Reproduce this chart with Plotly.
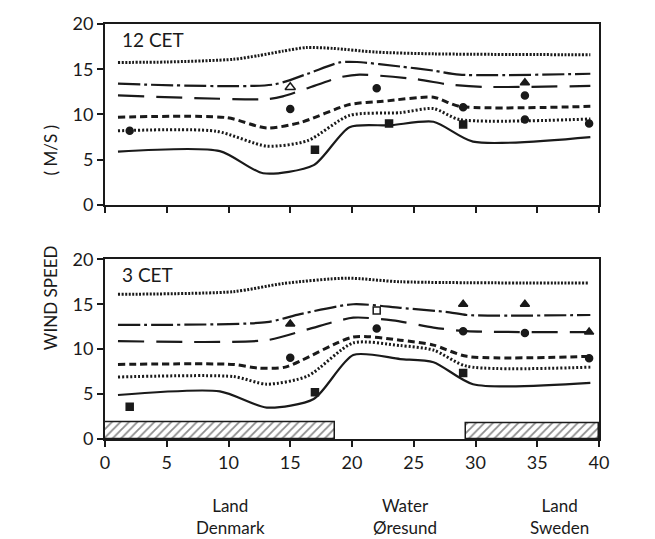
import plotly.graph_objects as go
from plotly.subplots import make_subplots

# ---------------- data: 12 CET (top panel) ----------------
t_dot_hi_x = [1.05, 5, 10.4, 12.4, 14.4, 16.3, 18.5, 21.9, 26.6, 39.3]
t_dot_hi_y = [15.75, 15.8, 16.1, 16.5, 17.0, 17.4, 17.3, 16.9, 16.7, 16.6]
t_dashdot_x = [1.05, 13.6, 16.4, 19.0, 20.4, 23.9, 26.6, 28.7, 39.3]
t_dashdot_y = [13.4, 13.3, 14.5, 15.75, 15.8, 15.3, 14.85, 14.4, 14.5]
t_longdash_x = [1.05, 13.1, 14.4, 16.4, 19.0, 20.6, 25.2, 27.9, 30.6, 39.3]
t_longdash_y = [12.1, 11.7, 12.0, 12.9, 14.1, 14.4, 13.9, 13.3, 13.05, 13.15]
t_dash_x = [1.05, 9.85, 13.1, 15.8, 19.8, 22.5, 26.6, 28.7, 39.3]
t_dash_y = [9.7, 9.65, 8.5, 9.1, 11.1, 11.45, 11.9, 10.9, 10.9]
t_dot_lo_x = [1.05, 9.0, 13.1, 16.4, 19.8, 23.9, 26.6, 28.7, 39.3]
t_dot_lo_y = [8.2, 8.15, 6.5, 7.1, 9.9, 10.2, 10.65, 9.45, 9.5]
t_solid_x = [1.05, 9.3, 12.8, 16.9, 19.8, 23.1, 26.6, 29.8, 39.3]
t_solid_y = [5.9, 5.95, 3.5, 4.4, 8.6, 8.8, 9.2, 7.0, 7.5]

t_tri_open_x = [15]
t_tri_open_y = [13.0]
t_tri_x = [34]
t_tri_y = [13.5]
t_circ_x = [2, 15, 22, 29, 34, 34, 39.2]
t_circ_y = [8.2, 10.6, 12.9, 10.8, 12.1, 9.45, 9.0]
t_sq_x = [17, 23, 29]
t_sq_y = [6.1, 9.0, 8.9]

# ---------------- data: 3 CET (bottom panel) ----------------
b_dot_hi_x = [1.05, 10.4, 14.4, 19.6, 23.9, 39.2]
b_dot_hi_y = [16.1, 16.4, 17.3, 17.9, 17.5, 17.35]
b_dashdot_x = [1.05, 13.1, 15.8, 20.1, 23.9, 27.9, 29.3, 39.3]
b_dashdot_y = [12.7, 13.0, 13.9, 15.0, 14.6, 14.1, 13.8, 13.8]
b_longdash_x = [1.05, 13.1, 16.4, 20.1, 23.3, 26.6, 29.3, 39.3]
b_longdash_y = [10.9, 11.0, 12.2, 13.5, 13.2, 12.4, 12.0, 11.9]
b_dash_x = [1.05, 10.4, 12.4, 14.6, 20.1, 23.9, 26.6, 29.3, 39.3]
b_dash_y = [8.3, 8.3, 7.9, 8.0, 11.35, 11.0, 10.45, 9.2, 9.2]
b_dot_lo_x = [1.05, 10.4, 13.1, 16.4, 20.1, 23.9, 26.6, 29.3, 39.3]
b_dot_lo_y = [6.9, 6.95, 6.1, 7.0, 10.7, 10.4, 9.9, 8.1, 8.0]
b_solid_x = [1.05, 9.3, 13.1, 16.9, 20.1, 23.9, 26.6, 29.8, 39.3]
b_solid_y = [4.9, 5.3, 3.5, 4.45, 9.35, 8.9, 8.55, 6.1, 6.25]

b_tri_x = [15, 29, 34, 39.2]
b_tri_y = [12.8, 15.0, 15.0, 11.9]
b_circ_x = [15, 22, 29, 34, 39.2]
b_circ_y = [9.05, 12.3, 12.0, 11.8, 9.0]
b_sq_x = [2, 17, 29]
b_sq_y = [3.6, 5.2, 7.35]
b_sq_open_x = [22]
b_sq_open_y = [14.3]

# land strips (hatched)
land_start = [0, 29.2]
land_end = [18.6, 40]
land_height = [1.9, 1.7]

x_ticks = [0, 5, 10, 15, 20, 25, 30, 35, 40]
y_ticks = [0, 5, 10, 15, 20]
region_x = [10.2, 24.3, 36.8]
region_labels = ["Land<br>Denmark", "Water<br>Øresund", "Land<br>Sweden"]
panel_labels = ["12 CET", "3 CET"]

FONT = "Lato"
BLACK = "#1a1a1a"

fig = make_subplots(rows=2, cols=1)

styles = [
    dict(dash="2px,1.5px", width=3),          # fine dotted (top)
    dict(dash="22px,4px,3px,4px", width=2.2),  # dash-dot
    dict(dash="26px,12px", width=2.2),         # long dash
    dict(dash="7px,4px", width=3),             # heavy dashed
    dict(dash="2px,2px", width=3),             # dotted (lower)
    dict(dash="solid", width=2.2),             # solid
]

top_series = [(t_dot_hi_x, t_dot_hi_y), (t_dashdot_x, t_dashdot_y), (t_longdash_x, t_longdash_y),
              (t_dash_x, t_dash_y), (t_dot_lo_x, t_dot_lo_y), (t_solid_x, t_solid_y)]
bot_series = [(b_dot_hi_x, b_dot_hi_y), (b_dashdot_x, b_dashdot_y), (b_longdash_x, b_longdash_y),
              (b_dash_x, b_dash_y), (b_dot_lo_x, b_dot_lo_y), (b_solid_x, b_solid_y)]

for row, series in ((1, top_series), (2, bot_series)):
    for (xs, ys), st in zip(series, styles):
        fig.add_trace(go.Scatter(x=xs, y=ys, mode="lines",
                                 line=dict(color=BLACK, width=st["width"], dash=st["dash"],
                                           shape="spline", smoothing=0.7),
                                 showlegend=False, hoverinfo="skip"), row=row, col=1)

def markers(xs, ys, symbol, size, row):
    fig.add_trace(go.Scatter(x=xs, y=ys, mode="markers",
                             marker=dict(symbol=symbol, size=size, color=BLACK,
                                         line=dict(color=BLACK, width=1.5)),
                             showlegend=False), row=row, col=1)

markers(t_tri_open_x, t_tri_open_y, "triangle-up-open", 9, 1)
markers(t_tri_x, t_tri_y, "triangle-up", 8, 1)
markers(t_circ_x, t_circ_y, "circle", 7, 1)
markers(t_sq_x, t_sq_y, "square", 7, 1)
markers(b_tri_x, b_tri_y, "triangle-up", 8, 2)
markers(b_circ_x, b_circ_y, "circle", 7, 2)
markers(b_sq_x, b_sq_y, "square", 7, 2)
markers(b_sq_open_x, b_sq_open_y, "square-open", 7, 2)

# hatched land strips
fig.add_trace(go.Bar(
    x=[(s + e) / 2 for s, e in zip(land_start, land_end)],
    y=land_height,
    width=[e - s for s, e in zip(land_start, land_end)],
    marker=dict(color="white", line=dict(color=BLACK, width=1.5),
                pattern=dict(shape="/", fgcolor=BLACK, bgcolor="white", size=6, solidity=0.3)),
    showlegend=False, hoverinfo="skip"), row=2, col=1)

axis_common = dict(range=[0, 40], showgrid=False, zeroline=False, showline=True, mirror=True,
                   linecolor=BLACK, linewidth=2, ticks="outside", ticklen=6, tickwidth=1.5,
                   tickcolor=BLACK, tickvals=x_ticks)
fig.update_xaxes(**axis_common)
fig.update_xaxes(showticklabels=False, row=1, col=1)
fig.update_xaxes(tickfont=dict(family=FONT, size=18, color=BLACK), row=2, col=1)
fig.update_yaxes(range=[0, 20], showgrid=False, zeroline=False, showline=True, mirror=True,
                 linecolor=BLACK, linewidth=2, ticks="outside", ticklen=6, tickwidth=1.5,
                 tickcolor=BLACK, tickvals=y_ticks,
                 tickfont=dict(family=FONT, size=18, color=BLACK))
fig.update_yaxes(domain=[0.564, 1.0], row=1, col=1)
fig.update_yaxes(domain=[0.0, 0.433], row=2, col=1)

fig.update_layout(width=655, height=539, margin=dict(l=105, r=56, t=14, b=100),
                  paper_bgcolor="white", plot_bgcolor="white", bargap=0)

annotations = []
for i, lbl in enumerate(panel_labels):
    annotations.append(dict(text=lbl, x=1.2, y=18.3, xref=f"x{'' if i == 0 else 2}",
                            yref=f"y{'' if i == 0 else 2}", showarrow=False, xanchor="left",
                            font=dict(family=FONT, size=19, color=BLACK)))
for xv, lbl in zip(region_x, region_labels):
    annotations.append(dict(text=lbl, x=xv, y=-0.13, xref="x2", yref="paper", showarrow=False,
                            yanchor="top", align="center",
                            font=dict(family=FONT, size=17, color=BLACK)))
annotations.append(dict(text="( M/S )", x=-0.135, y=0.76, xref="paper", yref="paper",
                        textangle=-90, showarrow=False, font=dict(family=FONT, size=17, color=BLACK)))
annotations.append(dict(text="WIND SPEED", x=-0.135, y=0.21, xref="paper", yref="paper",
                        textangle=-90, showarrow=False, font=dict(family=FONT, size=17, color=BLACK)))
fig.update_layout(annotations=annotations)

fig.write_html("out.html", config={"displayModeBar": False},
               post_script="document.body.style.margin='0px';")
